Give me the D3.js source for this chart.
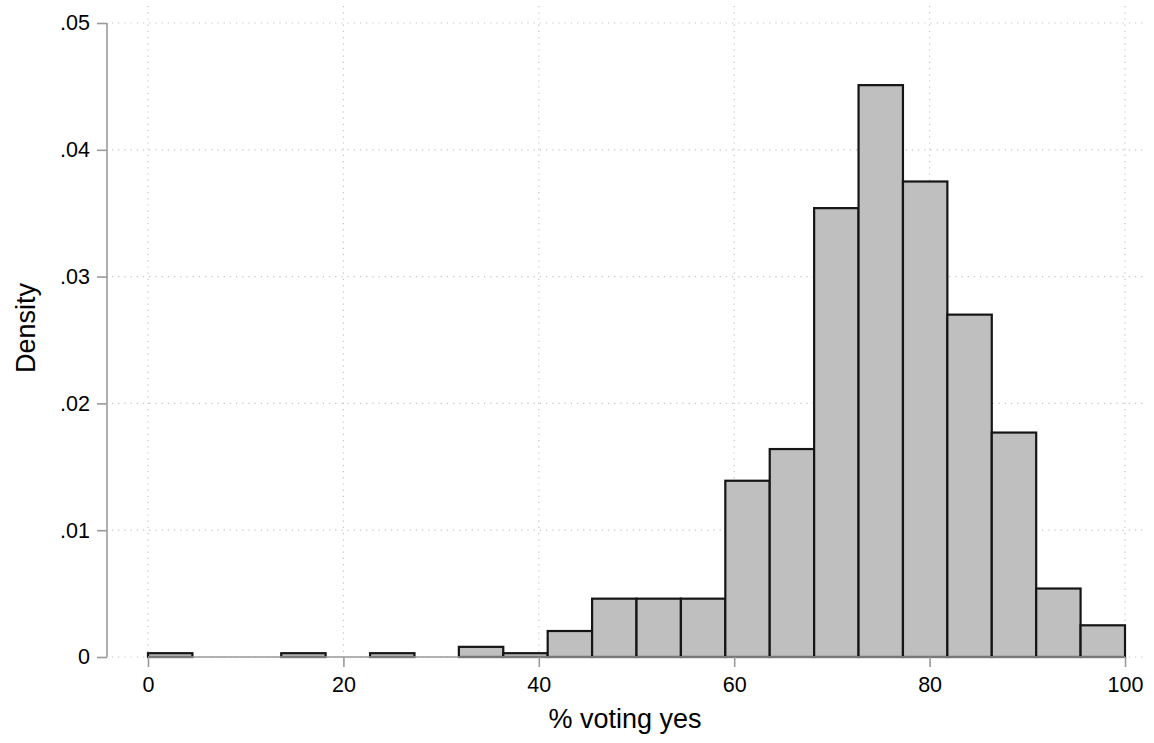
<!DOCTYPE html>
<html><head><meta charset="utf-8">
<script src="https://cdn.jsdelivr.net/npm/d3@7"></script>
<style>body{margin:0;background:#fff}svg{display:block}text{font-family:"Liberation Sans",Arial,Helvetica,sans-serif;fill:#000}</style>
</head><body>
<svg id="c" width="1154" height="743"></svg>
<script>
const binStart = 0, binEnd = 100, nBins = 22;
const densities = [0.0003,0,0,0.0003,0,0.0003,0,0.0008,0.0003,0.00205,0.0046,0.0046,0.0046,0.0139,0.0164,0.0354,0.0451,0.0375,0.0270,0.0177,0.0054,0.0025];
const xTicks = [0,20,40,60,80,100];
const yTicks = [0,0.01,0.02,0.03,0.04,0.05];
const yTickLabels = ["0",".01",".02",".03",".04",".05"];
const xTitle = "% voting yes", yTitle = "Density";

const svg = d3.select("#c");
const x = d3.scaleLinear().domain([0,100]).range([148,1125]);
const y = d3.scaleLinear().domain([0,0.05]).range([657,23]);
const w = (binEnd-binStart)/nBins;
const bins = densities.map((d,i)=>({x0:binStart+i*w, x1:binStart+(i+1)*w, d}));

// grid
const g = svg.append("g");
g.selectAll("line.hg").data(yTicks).join("line")
  .attr("x1",112).attr("x2",1146).attr("y1",d=>y(d)).attr("y2",d=>y(d))
  .attr("stroke","#c4c4c4").attr("stroke-width",1.2).attr("stroke-dasharray","1.2,5");
g.selectAll("line.vg").data(xTicks).join("line")
  .attr("x1",d=>x(d)).attr("x2",d=>x(d)).attr("y1",6).attr("y2",657)
  .attr("stroke","#c4c4c4").attr("stroke-width",1.2).attr("stroke-dasharray","1.2,5");

// bars
svg.append("g").selectAll("rect").data(bins.filter(b=>b.d>0)).join("rect")
  .attr("x",b=>x(b.x0)).attr("width",b=>x(b.x1)-x(b.x0))
  .attr("y",b=>y(b.d)).attr("height",b=>y(0)-y(b.d))
  .attr("fill","#bfbfbf").attr("stroke","#151515").attr("stroke-width",2.2);

// x axis
const xa = svg.append("g").attr("transform","translate(0,657)")
  .call(d3.axisBottom(x).tickValues(xTicks).tickSize(10).tickPadding(10).tickFormat(d3.format("d")));
xa.select(".domain").attr("stroke","#9a9a9a").attr("stroke-width",1.6).attr("d","M148,0H1125");
xa.selectAll(".tick line").attr("stroke","#9a9a9a").attr("stroke-width",1.6);
xa.selectAll(".tick text").attr("font-size",21.5).style("font-family","'Liberation Sans',Arial,sans-serif").attr("fill","#000");

// y axis
const ya = svg.append("g").attr("transform","translate(107,0)")
  .call(d3.axisLeft(y).tickValues(yTicks).tickSize(10).tickPadding(7).tickFormat((d,i)=>yTickLabels[i]));
ya.select(".domain").attr("stroke","#9a9a9a").attr("stroke-width",1.6).attr("d","M0,23V657");
ya.selectAll(".tick line").attr("stroke","#9a9a9a").attr("stroke-width",1.6);
ya.selectAll(".tick text").attr("font-size",21.5).style("font-family","'Liberation Sans',Arial,sans-serif").attr("fill","#000");

// titles
svg.append("text").attr("x",625).attr("y",728).attr("text-anchor","middle").attr("font-size",27).text(xTitle);
svg.append("text").attr("transform","translate(35,328) rotate(-90)").attr("text-anchor","middle").attr("font-size",27).text(yTitle);
</script>
</body></html>
